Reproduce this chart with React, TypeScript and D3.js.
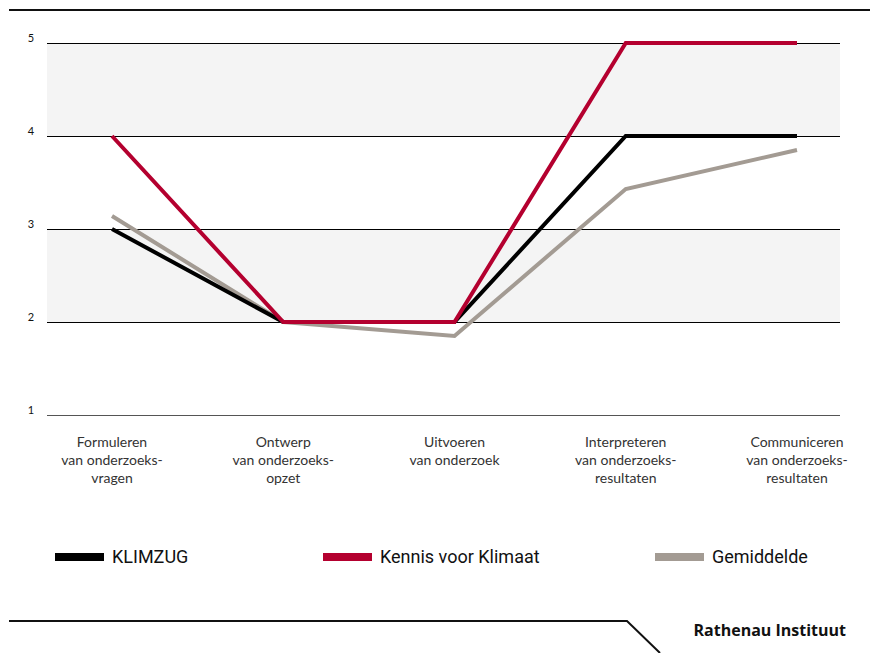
import React from "react";
import * as d3 from "d3";

const categories = [
  ["Formuleren", "van onderzoeks-", "vragen"],
  ["Ontwerp", "van onderzoeks-", "opzet"],
  ["Uitvoeren", "van onderzoek"],
  ["Interpreteren", "van onderzoeks-", "resultaten"],
  ["Communiceren", "van onderzoeks-", "resultaten"],
];
const klimzug = [3, 2, 2, 4, 4];
const kennis = [4, 2, 2, 5, 5];
const gemiddelde = [3.14, 2.0, 1.85, 3.43, 3.85];
const yTicks = [1, 2, 3, 4, 5];
const seriesNames = ["KLIMZUG", "Kennis voor Klimaat", "Gemiddelde"];
const colors = ["#000000", "#b4002f", "#a39b93"];

export default function App() {
  const W = 870, H = 653;
  const x = d3.scalePoint<number>().domain(d3.range(5)).range([112, 797]);
  const y = d3.scaleLinear().domain([1, 5]).range([415, 43]);
  const gridLeft = 47, gridRight = 840;
  const line = d3.line<number>().x((_, i) => x(i)!).y((d) => y(d));
  const series = [gemiddelde, klimzug, kennis];
  const seriesColors = [colors[2], colors[0], colors[1]];
  const legendX = [55, 323, 655];
  const labelFont = "Lato, 'Open Sans', sans-serif";
  const legendFont = "Roboto, sans-serif";

  return (
    <svg width={W} height={H} style={{ position: "absolute", left: 0, top: 0 }}>
      <rect width={W} height={H} fill="#fff" />
      <line x1={9} x2={870} y1={10} y2={10} stroke="#111" strokeWidth={2} />
      {[[5, 4], [3, 2]].map(([a, b], i) => (
        <rect key={i} x={gridLeft} width={gridRight - gridLeft} y={y(a)} height={y(b) - y(a)} fill="#f4f4f4" />
      ))}
      {yTicks.map((t) => (
        <g key={t}>
          <line
            x1={gridLeft}
            x2={gridRight}
            y1={y(t) + 0.5}
            y2={y(t) + 0.5}
            stroke={t === 1 ? "#555" : "#000"}
            strokeWidth={1}
            shapeRendering="crispEdges"
          />
          <text x={31} y={y(t) - 1} fontSize={11} fontFamily={labelFont} fill="#111" textAnchor="middle">
            {t}
          </text>
        </g>
      ))}
      {series.map((s, i) => (
        <path key={i} d={line(s)!} fill="none" stroke={seriesColors[i]} strokeWidth={4} strokeLinejoin="miter" />
      ))}
      {categories.map((c, i) => (
        <text key={i} x={x(i)} y={447} fontSize={14} fontFamily={labelFont} fill="#333" textAnchor="middle">
          {c.map((l, j) => (
            <tspan key={j} x={x(i)} dy={j === 0 ? 0 : 18}>
              {l}
            </tspan>
          ))}
        </text>
      ))}
      {seriesNames.map((n, i) => (
        <g key={n}>
          <rect x={legendX[i]} y={553} width={49} height={8} fill={colors[i]} />
          <text x={legendX[i] + 57} y={563} fontSize={18} fontFamily={legendFont} fill="#111">
            {n}
          </text>
        </g>
      ))}
      <path d="M9,621 L627,621 L660,653" fill="none" stroke="#111" strokeWidth={2} />
      <text x={846} y={636} fontSize={16} fontWeight="bold" fontFamily="'Open Sans', sans-serif" fill="#111" textAnchor="end">
        Rathenau Instituut
      </text>
    </svg>
  );
}
